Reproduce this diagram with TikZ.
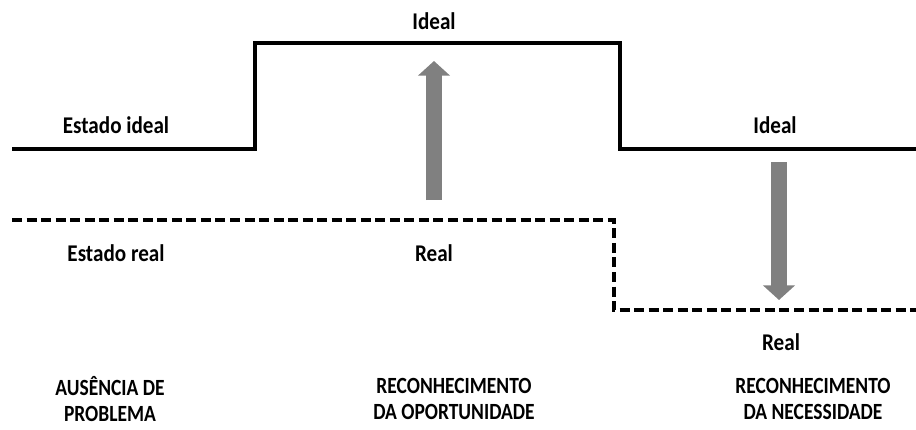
\documentclass[tikz,border=0pt]{standalone}
\usepackage{fontspec}
\setmainfont{Carlito}
\newfontfamily\labelfont[FakeStretch=0.88]{Carlito}
\newfontfamily\phasefont[FakeStretch=0.84]{Carlito}
\usetikzlibrary{arrows.meta}

\definecolor{arrowgray}{RGB}{128,128,128}

\tikzset{every picture/.style={line width=0.75pt}}
\tikzset{
  ideal line/.style={line width=2.4pt, line join=miter},
  real line/.style={line width=2.4pt, dash pattern=on 7.5pt off 3.4pt},
  gap arrow/.style={draw=arrowgray, line width=12.5pt,
    -{Triangle[length=11pt, width=23.5pt, fill=arrowgray]}},
  state label/.style={inner sep=0.75pt, font=\labelfont\fontsize{18}{20}\selectfont\bfseries},
  phase label/.style={inner sep=0.75pt, align=center, font=\phasefont\fontsize{17.4}{19.5}\selectfont\bfseries}
}

\begin{document}
\begin{tikzpicture}[x=0.75pt,y=0.75pt,yscale=-1,xscale=1]
\useasboundingbox (0,0) rectangle (916,429);

%Straight Lines: ideal state
\coordinate (i0) at (12,149);
\coordinate (i1) at (255,149);
\coordinate (i2) at (255,43);
\coordinate (i3) at (620,43);
\coordinate (i4) at (620,149);
\coordinate (i5) at (916,149);
\draw [ideal line] (i0) -- (i1) -- (i2) -- (i3) -- (i4) -- (i5) ;

%Straight Lines: real state
\coordinate (r0) at (12,220);
\coordinate (r1) at (614,220);
\coordinate (r2) at (614,310);
\coordinate (r3) at (916,310);
\draw [real line] (r0) -- (r1) -- (r2) -- (r3) ;

%Arrows
\coordinate (upFrom) at (434,200);
\coordinate (upTo) at (434,61);
\draw [gap arrow] (upFrom) -- (upTo) ;
\coordinate (downFrom) at (779,162);
\coordinate (downTo) at (779,300);
\draw [gap arrow] (downFrom) -- (downTo) ;

% Text Node
\node [state label] (estIdeal) at (116,125) {Estado ideal};
\node [state label] (estReal) at (116,253) {Estado real};
\node [state label] (idealTop) at (434,21) {Ideal};
\node [state label] (realMid) at (434,253) {Real};
\node [state label] (idealRight) at (775,125) {Ideal};
\node [state label] (realRight) at (781,342) {Real};

% Text Node
\node [phase label] (phaseA) at (110,399) {AUSÊNCIA DE\\PROBLEMA};
\node [phase label] (phaseB) at (454,399) {RECONHECIMENTO\\DA OPORTUNIDADE};
\node [phase label] (phaseC) at (813,399) {RECONHECIMENTO\\DA NECESSIDADE};

\end{tikzpicture}
\end{document}
